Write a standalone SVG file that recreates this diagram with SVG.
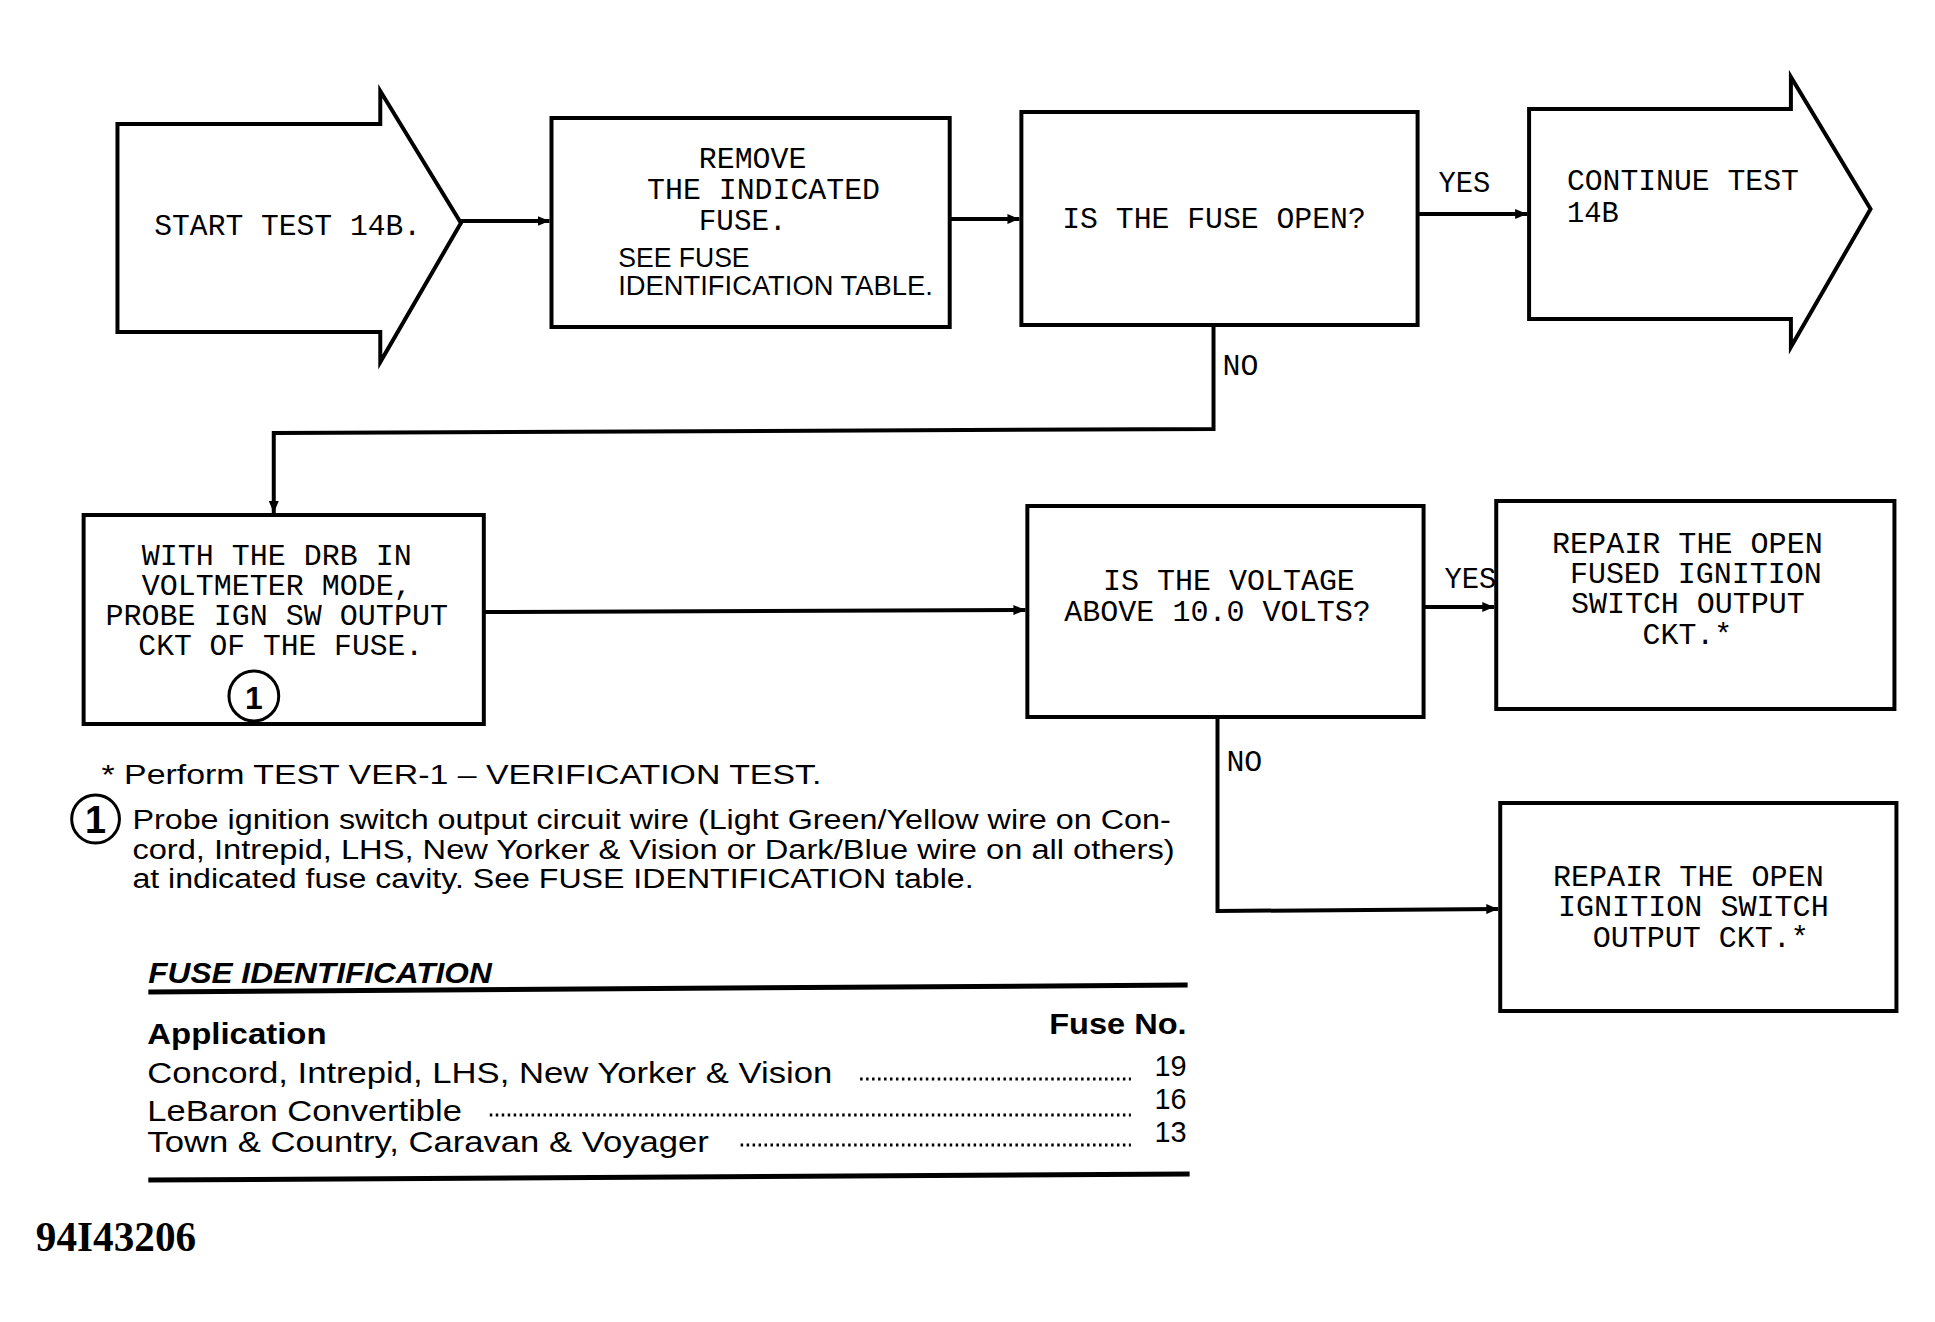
<svg xmlns="http://www.w3.org/2000/svg" width="1935" height="1322" viewBox="0 0 1935 1322">
<style>
  .shape { fill: #fff; stroke: #000; stroke-width: 4; stroke-linejoin: miter; }
  .conn { fill: none; stroke: #000; stroke-width: 4; }
  .mono { font-family: "Liberation Mono", "DejaVu Sans Mono", monospace; font-size: 29px; fill: #000; }
  .sans { font-family: "Liberation Sans", Arial, sans-serif; fill: #000; }
  .note { font-family: "Liberation Sans", Arial, sans-serif; font-size: 28px; fill: #000; }
  .row { font-family: "Liberation Sans", Arial, sans-serif; font-size: 29px; fill: #000; }
  .hdr { font-family: "Liberation Sans", Arial, sans-serif; font-size: 29px; font-weight: bold; fill: #000; }
  .circ { fill: none; stroke: #000; stroke-width: 3; }
  .rule { stroke: #000; stroke-width: 5; fill: none; }
  .dots { stroke: #000; stroke-width: 3; stroke-dasharray: 2.5 3.5; fill: none; }
</style>
<defs>
  <marker id="arr" viewBox="0 0 12 10" refX="12" refY="5" markerWidth="12" markerHeight="10" markerUnits="userSpaceOnUse" orient="auto">
    <path d="M0,0 L12,5 L0,10 z" fill="#000"/>
  </marker>
</defs>
<rect width="1935" height="1322" fill="#fff"/>
<g transform="scale(0.9955,1)">
<g id="connectors">
  <line class="conn" x1="463" y1="221" x2="552" y2="221" marker-end="url(#arr)"/>
  <line class="conn" x1="954" y1="219" x2="1024" y2="219" marker-end="url(#arr)"/>
  <line class="conn" x1="1424" y1="214" x2="1534" y2="214" marker-end="url(#arr)"/>
  <polyline class="conn" points="1219,325 1219,429 275,433 275,513" marker-end="url(#arr)"/>
  <line class="conn" x1="486" y1="612" x2="1030" y2="610" marker-end="url(#arr)"/>
  <line class="conn" x1="1430" y1="607" x2="1501" y2="607" marker-end="url(#arr)"/>
  <polyline class="conn" points="1223,717 1223,911 1505,909" marker-end="url(#arr)"/>
  <text class="mono" x="1445" y="192" textLength="52" lengthAdjust="spacingAndGlyphs">YES</text>
  <text class="mono" x="1228" y="375" textLength="36" lengthAdjust="spacingAndGlyphs">NO</text>
  <text class="mono" x="1451" y="588" textLength="52" lengthAdjust="spacingAndGlyphs">YES</text>
  <text class="mono" x="1232" y="771" textLength="36" lengthAdjust="spacingAndGlyphs">NO</text>
</g>

<g id="start">
  <path class="shape" d="M118,124 L382,124 L382,91 L463,223 L382,362 L382,332 L118,332 Z"/>
  <text class="mono" x="155" y="235" textLength="268" lengthAdjust="spacingAndGlyphs">START TEST 14B.</text>
</g>

<g id="remove">
  <rect class="shape" x="554" y="118" width="400" height="209"/>
  <text class="mono" x="702" y="168" textLength="108" lengthAdjust="spacingAndGlyphs">REMOVE</text>
  <text class="mono" x="650" y="199" textLength="234" lengthAdjust="spacingAndGlyphs">THE INDICATED</text>
  <text class="mono" x="702" y="230" textLength="88" lengthAdjust="spacingAndGlyphs">FUSE.</text>
  <text class="sans" x="621" y="267" font-size="27" textLength="132" lengthAdjust="spacingAndGlyphs">SEE FUSE</text>
  <text class="sans" x="621" y="295" font-size="27" textLength="316" lengthAdjust="spacingAndGlyphs">IDENTIFICATION TABLE.</text>
</g>

<g id="fuse-open">
  <rect class="shape" x="1026" y="112" width="398" height="213"/>
  <text class="mono" x="1067" y="228" textLength="305" lengthAdjust="spacingAndGlyphs">IS THE FUSE OPEN?</text>
</g>

<g id="continue">
  <path class="shape" d="M1536,109 L1799,109 L1799,77 L1879,209 L1799,347 L1799,319 L1536,319 Z"/>
  <text class="mono" x="1574" y="190" textLength="233" lengthAdjust="spacingAndGlyphs">CONTINUE TEST</text>
  <text class="mono" x="1574" y="222" textLength="52" lengthAdjust="spacingAndGlyphs">14B</text>
</g>

<g id="probe">
  <rect class="shape" x="84" y="515" width="402" height="209"/>
  <text class="mono" x="278" y="565" text-anchor="middle" textLength="271" lengthAdjust="spacingAndGlyphs">WITH THE DRB IN</text>
  <text class="mono" x="278" y="595" text-anchor="middle" textLength="271" lengthAdjust="spacingAndGlyphs">VOLTMETER MODE,</text>
  <text class="mono" x="278" y="625" text-anchor="middle" textLength="344" lengthAdjust="spacingAndGlyphs">PROBE IGN SW OUTPUT</text>
  <text class="mono" x="282" y="655" text-anchor="middle" textLength="286" lengthAdjust="spacingAndGlyphs">CKT OF THE FUSE.</text>
  <circle class="circ" cx="255" cy="696" r="25"/>
  <text class="sans" x="255" y="709" font-size="32" font-weight="bold" text-anchor="middle">1</text>
</g>

<g id="voltage">
  <rect class="shape" x="1032" y="506" width="398" height="211"/>
  <text class="mono" x="1108" y="590" textLength="253" lengthAdjust="spacingAndGlyphs">IS THE VOLTAGE</text>
  <text class="mono" x="1069" y="621" textLength="308" lengthAdjust="spacingAndGlyphs">ABOVE 10.0 VOLTS?</text>
</g>

<g id="repair-fused">
  <rect class="shape" x="1503" y="501" width="400" height="208"/>
  <text class="mono" x="1559" y="553" textLength="272" lengthAdjust="spacingAndGlyphs">REPAIR THE OPEN</text>
  <text class="mono" x="1577" y="583" textLength="253" lengthAdjust="spacingAndGlyphs">FUSED IGNITION</text>
  <text class="mono" x="1578" y="613" textLength="235" lengthAdjust="spacingAndGlyphs">SWITCH OUTPUT</text>
  <text class="mono" x="1650" y="644" textLength="90" lengthAdjust="spacingAndGlyphs">CKT.*</text>
</g>

<g id="repair-ignition">
  <rect class="shape" x="1507" y="803" width="398" height="208"/>
  <text class="mono" x="1560" y="886" textLength="272" lengthAdjust="spacingAndGlyphs">REPAIR THE OPEN</text>
  <text class="mono" x="1565" y="916" textLength="272" lengthAdjust="spacingAndGlyphs">IGNITION SWITCH</text>
  <text class="mono" x="1600" y="947" textLength="217" lengthAdjust="spacingAndGlyphs">OUTPUT CKT.*</text>
</g>

<g id="notes">
  <text class="note" x="102" y="784" textLength="723" lengthAdjust="spacingAndGlyphs">* Perform TEST VER-1 – VERIFICATION TEST.</text>
  <circle class="circ" cx="96" cy="819" r="24"/>
  <text class="sans" x="96" y="833" font-size="38" font-weight="bold" text-anchor="middle">1</text>
  <text class="note" x="133" y="829" textLength="1043" lengthAdjust="spacingAndGlyphs">Probe ignition switch output circuit wire (Light Green/Yellow wire on Con-</text>
  <text class="note" x="133" y="859" textLength="1047" lengthAdjust="spacingAndGlyphs">cord, Intrepid, LHS, New Yorker &amp; Vision or Dark/Blue wire on all others)</text>
  <text class="note" x="133" y="888" textLength="845" lengthAdjust="spacingAndGlyphs">at indicated fuse cavity. See FUSE IDENTIFICATION table.</text>
</g>

<g id="fuse-table">
  <text class="sans" x="149" y="983" font-size="29" font-weight="bold" font-style="italic" textLength="345" lengthAdjust="spacingAndGlyphs">FUSE IDENTIFICATION</text>
  <line class="rule" x1="149" y1="992" x2="1193" y2="985"/>
  <text class="hdr" x="148" y="1044" textLength="180" lengthAdjust="spacingAndGlyphs">Application</text>
  <text class="hdr" x="1192" y="1034" text-anchor="end" textLength="138" lengthAdjust="spacingAndGlyphs">Fuse No.</text>
  <text class="row" x="148" y="1083" textLength="688" lengthAdjust="spacingAndGlyphs">Concord, Intrepid, LHS, New Yorker &amp; Vision</text>
  <line class="dots" x1="864" y1="1079" x2="1136" y2="1079"/>
  <text class="row" x="1192" y="1076" text-anchor="end">19</text>
  <text class="row" x="148" y="1121" textLength="316" lengthAdjust="spacingAndGlyphs">LeBaron Convertible</text>
  <line class="dots" x1="492" y1="1115" x2="1136" y2="1115"/>
  <text class="row" x="1192" y="1109" text-anchor="end">16</text>
  <text class="row" x="148" y="1152" textLength="564" lengthAdjust="spacingAndGlyphs">Town &amp; Country, Caravan &amp; Voyager</text>
  <line class="dots" x1="744" y1="1145" x2="1136" y2="1145"/>
  <text class="row" x="1192" y="1142" text-anchor="end">13</text>
  <line class="rule" x1="149" y1="1180" x2="1195" y2="1174"/>
</g>

<text x="36" y="1251" font-family="Liberation Serif, 'Times New Roman', serif" font-size="42" font-weight="bold" textLength="161" lengthAdjust="spacingAndGlyphs">94I43206</text>
</g>
</svg>
